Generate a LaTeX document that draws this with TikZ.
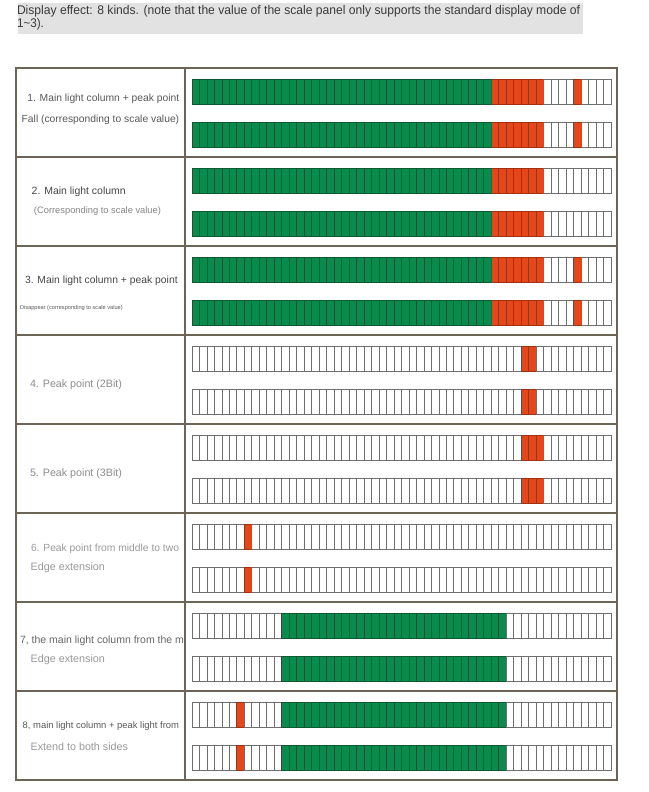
\documentclass[tikz,border=0pt]{standalone}
\usepackage{fontspec}
\setmainfont{Liberation Sans}
\usepackage{graphicx}
\definecolor{meterGreen}{HTML}{0A8A4C}
\definecolor{greenLine}{HTML}{0B5A32}
\definecolor{meterRed}{HTML}{E5461A}
\definecolor{redLine}{HTML}{A3300E}
\definecolor{segLine}{HTML}{6E6E6E}
\definecolor{tableLine}{HTML}{6B6457}
\definecolor{headFill}{HTML}{E2E2E2}
\definecolor{headText}{HTML}{3A3A3A}
\newcommand{\fitto}[2]{\resizebox{#1pt}{!}{#2}}
\newcommand{\meter}[6]{%
  \foreach \i in {0,...,55}{%
    \gdef\segfill{white}\gdef\segline{segLine}%
    \ifnum\i<\numexpr#3+1\relax\ifnum\i>\numexpr#2-1\relax\gdef\segfill{meterGreen}\gdef\segline{greenLine}\fi\fi
    \ifnum\i<\numexpr#5+1\relax\ifnum\i>\numexpr#4-1\relax\gdef\segfill{meterRed}\gdef\segline{redLine}\fi\fi
    \foreach \p in {#6}{\ifnum\i=\p\relax\gdef\segfill{meterRed}\gdef\segline{redLine}\fi}%
    \draw[line width=0.8pt, draw=\segline, fill=\segfill] ({192+\i*7.482},#1) rectangle ++(7.482,25);
  }%
}
\begin{document}
\begin{tikzpicture}[x=1pt,y=-1pt,
  lbl/.style={anchor=base west, inner sep=0pt, outer sep=0pt},
  grid/.style={draw=tableLine, line width=2.5pt}]
\useasboundingbox (0,0) rectangle (648,792);
\fill[white] (0,0) rectangle (648,792);
% header
\fill[headFill] (18,3) rectangle (583,34);
\node[lbl, text=headText] (h1) at (17,15) {\resizebox{563pt}{9.1pt}{Display effect: 8 kinds. (note that the value of the scale panel only supports the standard display mode of}};
\node[lbl, text=headText] (h2) at (17,27.5) {\resizebox{27pt}{9.1pt}{1\textasciitilde 3).}};
% meters
\foreach \r/\gs/\ge/\rs/\re/\pk in {0/0/39/40/46/51, 1/0/39/40/46/-1, 2/0/39/40/46/51, 3/-1/-1/44/45/-1, 4/-1/-1/44/46/-1, 5/-1/-1/-1/-1/{7,44}, 6/12/41/-1/-1/-1, 7/12/41/-1/-1/{6,47}}{
  \pgfmathsetmacro{\ya}{68+89*\r+11.5}
  \pgfmathsetmacro{\yb}{68+89*\r+54.5}
  \meter{\ya}{\gs}{\ge}{\rs}{\re}{\pk}
  \meter{\yb}{\gs}{\ge}{\rs}{\re}{\pk}
}
% labels
\node[lbl, text=black!65] (l1a) at (27.3,102) {\fitto{152}{1. Main light column + peak point}};
\node[lbl, text=black!65] (l1b) at (21.7,122) {\fitto{157.5}{Fall (corresponding to scale value)}};
\node[lbl, text=black!72] (l2a) at (31.7,194) {\fitto{94}{2. Main light column}};
\node[lbl, text=black!48] (l2b) at (34,213) {\fitto{127}{(Corresponding to scale value)}};
\node[lbl, text=black!72] (l3a) at (25,283) {\fitto{152.7}{3. Main light column + peak point}};
\node[lbl, text=black!65] (l3b) at (20,309) {\fitto{102.7}{Disappear (corresponding to scale value)}};
\node[lbl, text=black!45] (l4a) at (30,387) {\fitto{92}{4. Peak point (2Bit)}};
\node[lbl, text=black!45] (l5a) at (30,476) {\fitto{92}{5. Peak point (3Bit)}};
\node[lbl, text=black!40] (l6a) at (31,551) {\fitto{148}{6. Peak point from middle to two}};
\node[lbl, text=black!40] (l6b) at (30.7,570) {\fitto{74.3}{Edge extension}};
\node[lbl, text=black!60] (l7a) at (20,643) {\fitto{164}{7, the main light column from the m}};
\node[lbl, text=black!40] (l7b) at (30.7,662) {\fitto{74.3}{Edge extension}};
\node[lbl, text=black!65] (l8a) at (22.7,728) {\fitto{156.3}{8, main light column + peak light from}};
\node[lbl, text=black!40] (l8b) at (30.7,750) {\fitto{97.3}{Extend to both sides}};
% table grid
\draw[grid] (16,68) rectangle (617,780);
\draw[grid] (185,68) -- (185,780);
\foreach \r in {1,...,7}{\draw[grid] (16,{68+89*\r}) -- (617,{68+89*\r});}
\end{tikzpicture}
\end{document}
